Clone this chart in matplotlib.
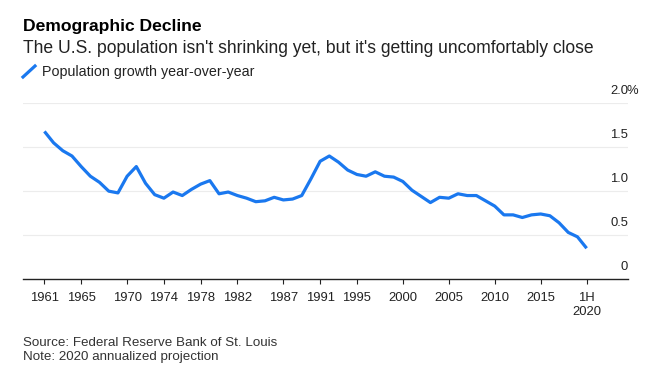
import matplotlib
matplotlib.use("Agg")
import matplotlib.pyplot as plt
from matplotlib.lines import Line2D

# population growth, percent year-over-year
years = list(range(1961, 2021))
growth = [1.68, 1.55, 1.46, 1.40, 1.28, 1.17, 1.10, 1.00, 0.98, 1.17,
          1.28, 1.09, 0.96, 0.92, 0.99, 0.95, 1.02, 1.08, 1.12, 0.97,
          0.99, 0.95, 0.92, 0.88, 0.89, 0.93, 0.90, 0.91, 0.95, 1.14,
          1.34, 1.40, 1.33, 1.24, 1.19, 1.17, 1.22, 1.17, 1.16, 1.11,
          1.01, 0.94, 0.87, 0.93, 0.92, 0.97, 0.95, 0.95, 0.89, 0.83,
          0.73, 0.73, 0.70, 0.73, 0.74, 0.72, 0.64, 0.53, 0.48, 0.35]

tick_years = [1961, 1965, 1970, 1974, 1978, 1982, 1987, 1991, 1995,
              2000, 2005, 2010, 2015, 2020]
tick_labels = [str(y) for y in tick_years[:-1]] + ["1H\n2020"]
y_ticks = [0, 0.5, 1.0, 1.5, 2.0]
y_labels = ["0", "0.5", "1.0", "1.5", "2.0"]

plt.rcParams["font.family"] = ["Liberation Sans", "DejaVu Sans"]

W, H = 657, 385
blue = "#1a78ef"
fig = plt.figure(figsize=(W / 100, H / 100), dpi=100)

def fy(px):
    return 1 - px / H

ax = fig.add_axes([23 / W, 106 / H, 605 / W, 175.7 / H])
ax.plot(years, growth, color=blue, lw=2.3, solid_capstyle="butt", zorder=3)
ax.set_xlim(1958.67, 2024.5)
ax.set_ylim(0, 2.0)

for v in y_ticks[1:]:
    ax.axhline(v, color="#ececec", lw=0.8, zorder=1)

for s in ["top", "left", "right"]:
    ax.spines[s].set_visible(False)
ax.spines["bottom"].set_color("#222222")
ax.spines["bottom"].set_linewidth(1.0)

ax.set_yticks([])
ax.set_xticks(tick_years)
ax.set_xticklabels(tick_labels, fontsize=9.4, color="#222222", linespacing=1.25)
ax.tick_params(axis="x", length=3.6, width=0.8, color="#222222", pad=5.5)

# y labels sit inside the plot, right aligned, just above each gridline
for v, lab in zip(y_ticks, y_labels):
    ax.annotate(lab, xy=(1, v), xycoords=("axes fraction", "data"),
                xytext=(0, 9), textcoords="offset pixels",
                ha="right", va="baseline", fontsize=9.4, color="#222222")
ax.annotate("%", xy=(1, 2.0), xycoords=("axes fraction", "data"),
            xytext=(-1.5, 9), textcoords="offset pixels",
            ha="left", va="baseline", fontsize=9.4, color="#222222")

fig.text(23 / W, fy(30.7), "Demographic Decline", fontsize=12.6,
         fontweight="bold", color="black", va="baseline")
fig.text(23 / W, fy(53.3), "The U.S. population isn't shrinking yet, but it's getting uncomfortably close",
         fontsize=12.65, color="#222222", va="baseline")

# legend
fig.add_artist(Line2D([23 / W, 35 / W], [fy(77), fy(66)], color=blue, lw=2.3,
                      transform=fig.transFigure))
fig.text(42.5 / W, fy(76), "Population growth year-over-year", fontsize=10.3,
         color="#222222", va="baseline")

fig.text(23 / W, fy(346), "Source: Federal Reserve Bank of St. Louis",
         fontsize=9.6, color="#333333", va="baseline")
fig.text(23 / W, fy(360), "Note: 2020 annualized projection",
         fontsize=9.6, color="#333333", va="baseline")

fig.savefig("out.png", dpi=100)
